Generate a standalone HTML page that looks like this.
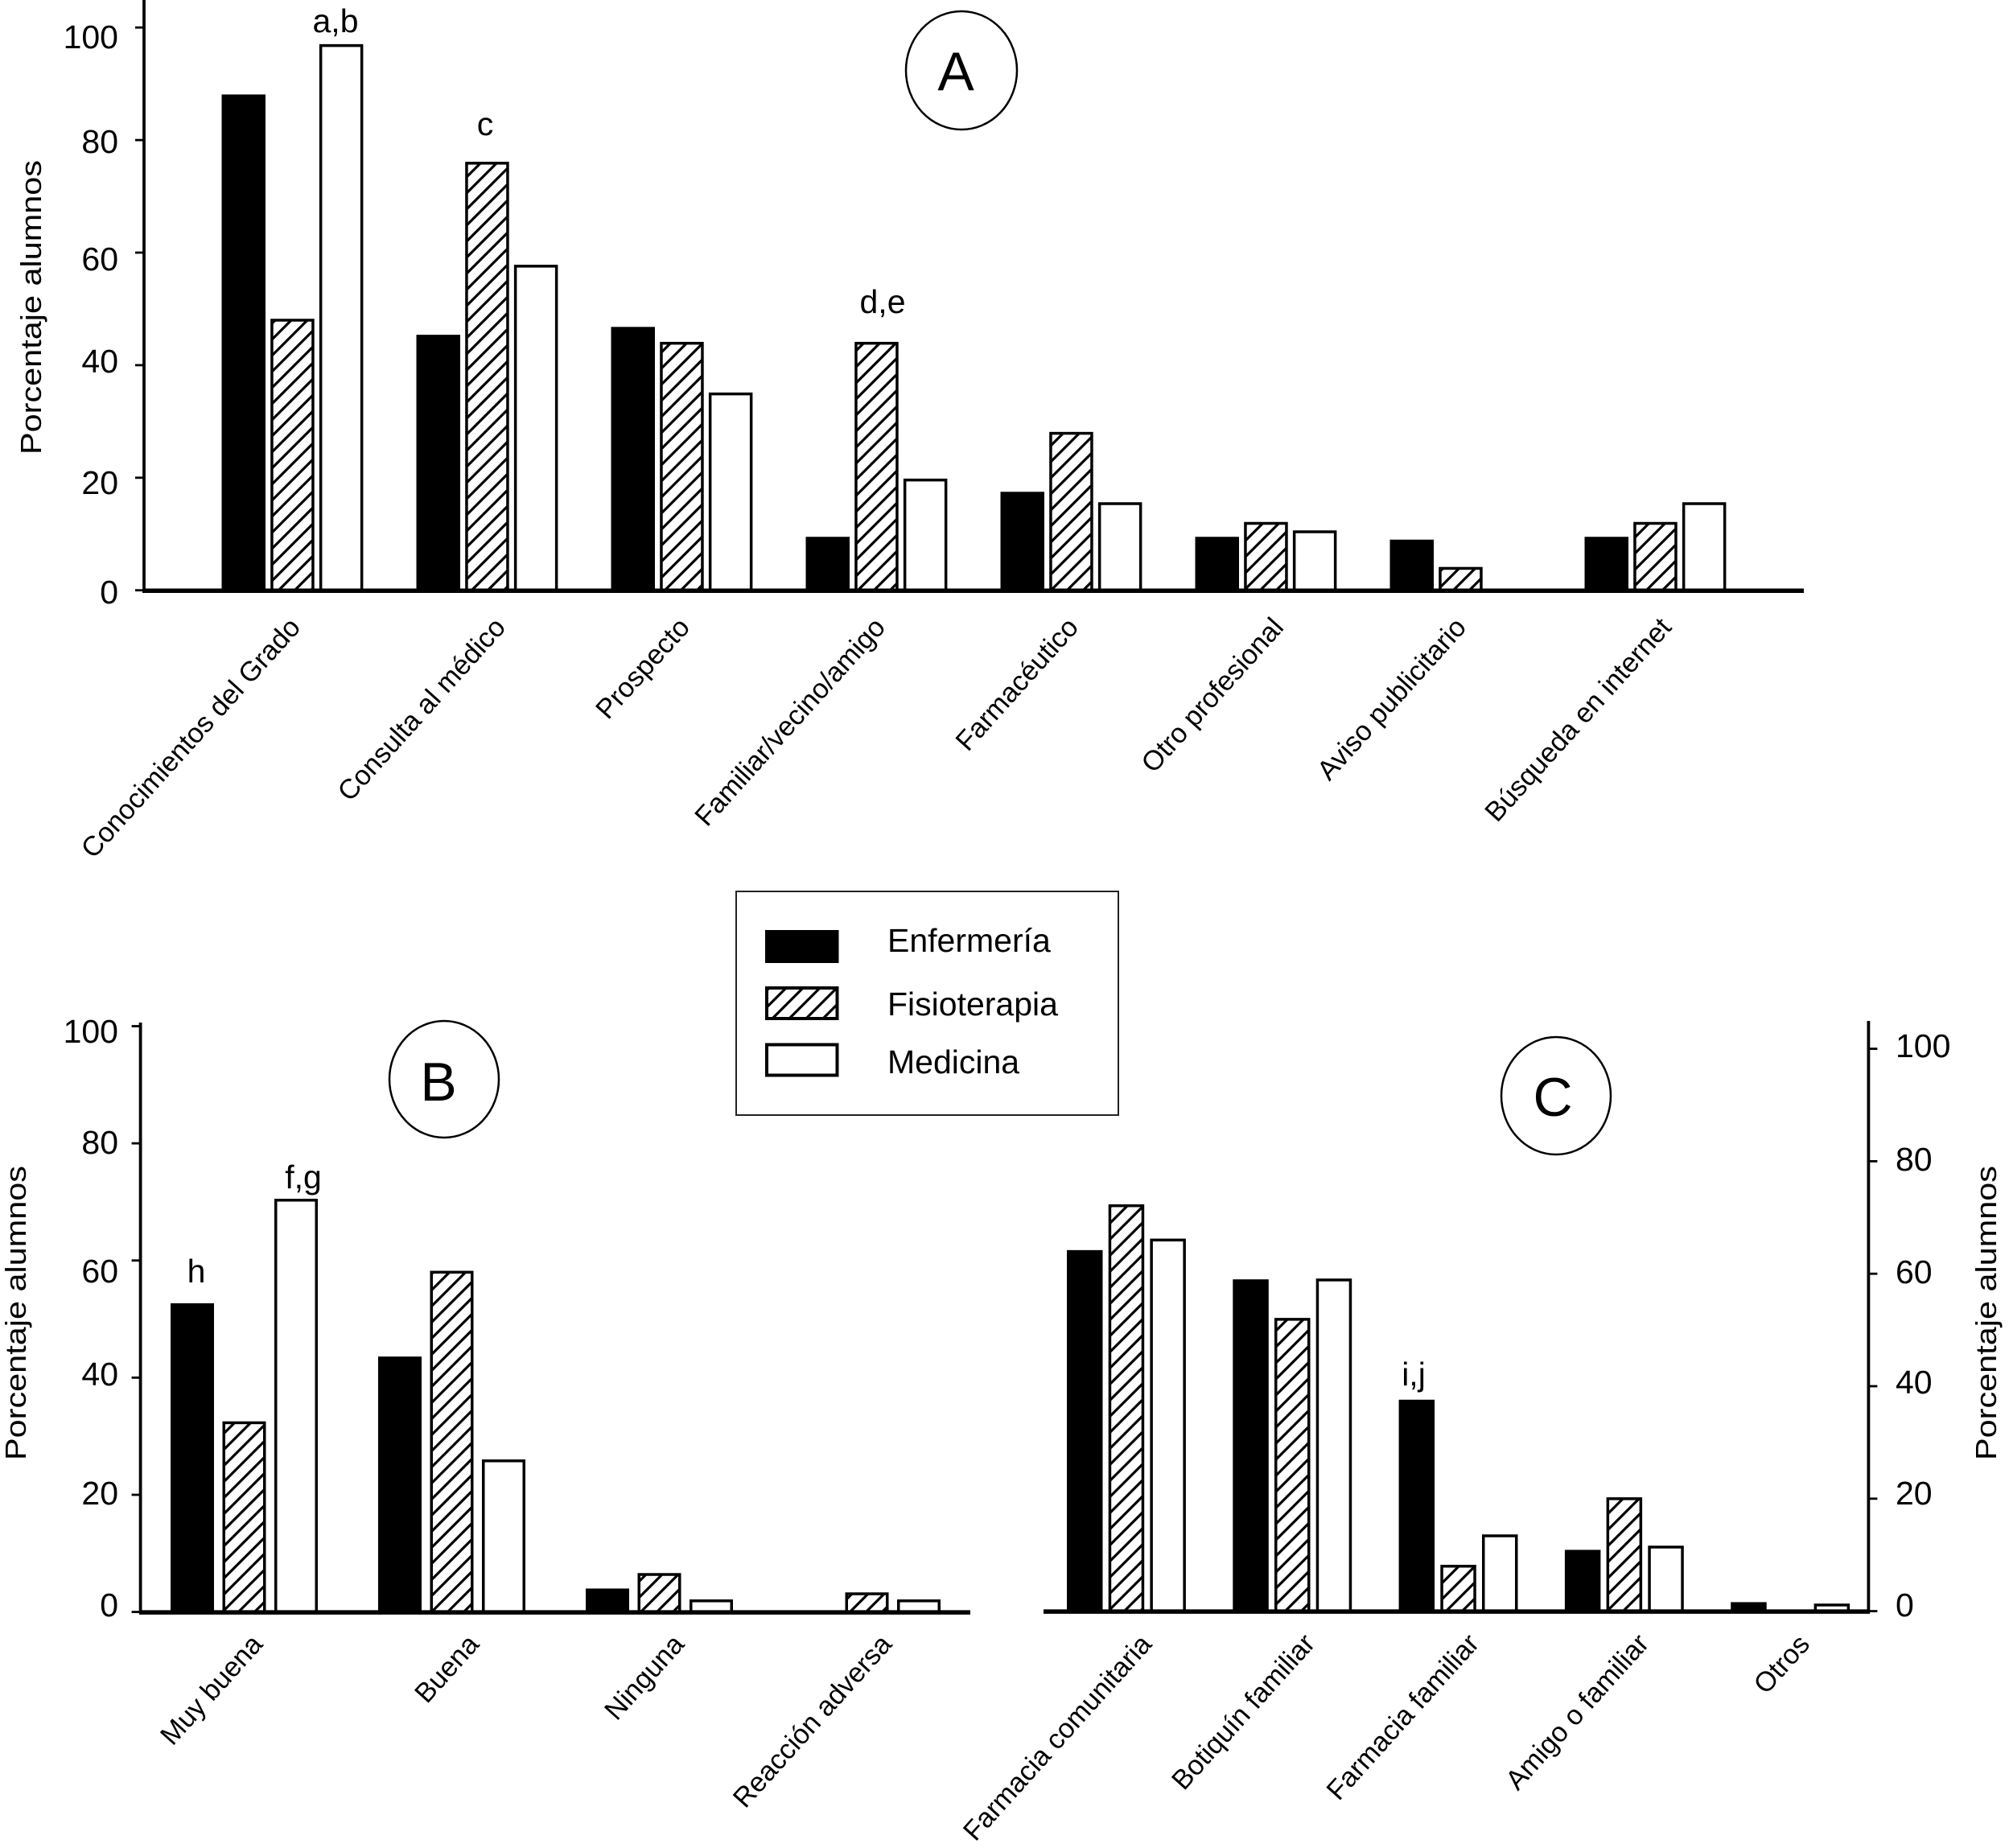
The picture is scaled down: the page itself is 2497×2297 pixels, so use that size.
<!DOCTYPE html>
<html lang="es">
<head>
<meta charset="utf-8">
<title>Porcentaje alumnos</title>
<style>
html,body{margin:0;padding:0;background:#fff;}
svg{display:block;}
text{font-family:"Liberation Sans",sans-serif;fill:#000;}
.tk{font-size:41px;}
.tkr{font-size:41px;}
.ttl{font-size:36px;}
.cat{font-size:34.3px;text-anchor:end;}
.ann{font-size:41px;text-anchor:middle;}
.let{font-size:68px;text-anchor:middle;}
.leg{font-size:41px;}
</style>
</head>
<body>
<svg id="chart" xmlns="http://www.w3.org/2000/svg" width="2497" height="2297" viewBox="0 0 2497 2297">
  <defs>
    <pattern id="hatch" patternUnits="userSpaceOnUse" width="20" height="20">
      <path d="M-5 5L5 -5M0 20L20 0M15 25L25 15" stroke="#000" stroke-width="3.2" fill="none"/>
    </pattern>
    <pattern id="hatch-legend" patternUnits="userSpaceOnUse" width="42" height="42">
      <path d="M-5 5L5 -5M-5 26L26 -5M-5 47L47 -5M16 47L47 16M37 47L47 37" stroke="#000" stroke-width="3.2" fill="none"/>
    </pattern>
  </defs>
  <rect x="0" y="0" width="2497" height="2297" fill="#fff"/>

  <g id="panel-a">
    <text class="ttl" transform="translate(51,565) rotate(-90)" textLength="366" lengthAdjust="spacingAndGlyphs">Porcentaje alumnos</text>
    <g text-anchor="end">
      <text class="tk" x="147" y="60">100</text>
      <text class="tk" x="147" y="190">80</text>
      <text class="tk" x="147" y="336">60</text>
      <text class="tk" x="147" y="463">40</text>
      <text class="tk" x="147" y="614">20</text>
      <text class="tk" x="147" y="750">0</text>
    </g>
    <g>
      <text class="cat" transform="translate(375,781) rotate(-48)">Conocimientos del Grado</text>
      <text class="cat" transform="translate(630,781) rotate(-48)">Consulta al médico</text>
      <text class="cat" transform="translate(859,781) rotate(-48)">Prospecto</text>
      <text class="cat" transform="translate(1102,781) rotate(-48)">Familiar/vecino/amigo</text>
      <text class="cat" transform="translate(1342,781) rotate(-48)">Farmacéutico</text>
      <text class="cat" transform="translate(1597,781) rotate(-48)">Otro profesional</text>
      <text class="cat" transform="translate(1824,781) rotate(-48)">Aviso publicitario</text>
      <text class="cat" transform="translate(2079,781) rotate(-48)">Búsqueda en internet</text>
    </g>
    <text class="ann" x="417" y="40">a,b</text>
    <text class="ann" x="603" y="168">c</text>
    <text class="ann" x="1097" y="389">d,e</text>
    <ellipse cx="1195" cy="87.5" rx="69" ry="73.5" fill="#fff" stroke="#000" stroke-width="2.5"/>
    <text class="let" x="1188" y="112">A</text>
  </g>

  <g id="panel-b">
    <text class="ttl" transform="translate(32,1815) rotate(-90)" textLength="366" lengthAdjust="spacingAndGlyphs">Porcentaje alumnos</text>
    <g text-anchor="end">
      <text class="tk" x="147" y="1296">100</text>
      <text class="tk" x="147" y="1434">80</text>
      <text class="tk" x="147" y="1594">60</text>
      <text class="tk" x="147" y="1722">40</text>
      <text class="tk" x="147" y="1870">20</text>
      <text class="tk" x="147" y="2009">0</text>
    </g>
    <g>
      <text class="cat" transform="translate(328,2045) rotate(-48)">Muy buena</text>
      <text class="cat" transform="translate(597,2045) rotate(-48)">Buena</text>
      <text class="cat" transform="translate(852,2045) rotate(-48)">Ninguna</text>
      <text class="cat" transform="translate(1110,2045) rotate(-48)">Reacción adversa</text>
    </g>
    <text class="ann" x="377" y="1477">f,g</text>
    <text class="ann" x="244" y="1594">h</text>
    <ellipse cx="552" cy="1341.5" rx="68" ry="72.5" fill="#fff" stroke="#000" stroke-width="2.5"/>
    <text class="let" x="545" y="1368">B</text>
  </g>

  <g id="panel-c">
    <text class="ttl" transform="translate(2481,1815) rotate(-90)" textLength="366" lengthAdjust="spacingAndGlyphs">Porcentaje alumnos</text>
    <g text-anchor="start">
      <text class="tkr" x="2356" y="1314">100</text>
      <text class="tkr" x="2356" y="1455">80</text>
      <text class="tkr" x="2356" y="1595">60</text>
      <text class="tkr" x="2356" y="1732">40</text>
      <text class="tkr" x="2356" y="1870">20</text>
      <text class="tkr" x="2356" y="2009">0</text>
    </g>
    <g>
      <text class="cat" transform="translate(1433,2045) rotate(-48)">Farmacia comunitaria</text>
      <text class="cat" transform="translate(1636,2044) rotate(-48)">Botiquín familiar</text>
      <text class="cat" transform="translate(1840,2044) rotate(-48)">Farmacia familiar</text>
      <text class="cat" transform="translate(2051,2044) rotate(-48)">Amigo o familiar</text>
      <text class="cat" transform="translate(2251,2045) rotate(-48)">Otros</text>
    </g>
    <text class="ann" x="1757" y="1722">i,j</text>
    <ellipse cx="1934" cy="1362" rx="68" ry="73" fill="#fff" stroke="#000" stroke-width="2.5"/>
    <text class="let" x="1930" y="1387">C</text>
  </g>

  <g id="legend">
    <rect x="915" y="1108" width="475" height="278" fill="#fff" stroke="#222" stroke-width="2"/>
    <g>
      <rect x="951" y="1156" width="91.5" height="41" fill="#000"/>
      <text class="leg" x="1103" y="1183">Enfermería</text>
    </g>
    <g>
      <rect x="953" y="1228" width="87.5" height="38" fill="url(#hatch-legend)" stroke="#000" stroke-width="4"/>
      <text class="leg" x="1103" y="1262">Fisioterapia</text>
    </g>
    <g>
      <rect x="953" y="1298.5" width="87.5" height="38" fill="#fff" stroke="#000" stroke-width="4"/>
      <text class="leg" x="1103" y="1334">Medicina</text>
    </g>
  </g>
</svg>

<script>
const tickValues = [0, 20, 40, 60, 80, 100];

const categoriesA = ['Conocimientos del Grado', 'Consulta al médico', 'Prospecto', 'Familiar/vecino/amigo', 'Farmacéutico', 'Otro profesional', 'Aviso publicitario', 'Búsqueda en internet'];
const enfermeriaA = [88.1, 45.4, 46.8, 9.5, 17.5, 9.5, 9, 9.5];
const fisioterapiaA = [48.1, 76, 44, 44, 28, 12, 4, 12];
const medicinaA = [96.9, 57.7, 35, 19.7, 15.5, 10.5, 0, 15.5];

const categoriesB = ['Muy buena', 'Buena', 'Ninguna', 'Reacción adversa'];
const enfermeriaB = [52.7, 43.6, 4, 0];
const fisioterapiaB = [32.4, 58.1, 6.5, 3.2];
const medicinaB = [70.4, 25.9, 2, 2];

const categoriesC = ['Farmacia comunitaria', 'Botiquín familiar', 'Farmacia familiar', 'Amigo o familiar', 'Otros'];
const enfermeriaC = [64.2, 59, 37.6, 10.9, 1.6];
const fisioterapiaC = [72.2, 52, 8.1, 20.1, 0];
const medicinaC = [66.1, 59, 13.5, 11.5, 1.2];

const NS = 'http://www.w3.org/2000/svg';

function slug(s) {
  return s.normalize('NFD').replace(/[\u0300-\u036f]/g, '').toLowerCase().replace(/[^a-z0-9]+/g, '-');
}

function drawLine(parent, x1, y1, x2, y2, w, name) {
  const el = document.createElementNS(NS, 'line');
  el.setAttribute('x1', x1);
  el.setAttribute('y1', y1);
  el.setAttribute('x2', x2);
  el.setAttribute('y2', y2);
  el.setAttribute('stroke', '#000');
  el.setAttribute('stroke-width', w);
  
  
  parent.appendChild(el);
}

function drawBar(parent, x, top, bottom, width, kind, name) {
  const el = document.createElementNS(NS, 'rect');
  if (kind === 'enfermeria') {
    el.setAttribute('x', x);
    el.setAttribute('y', top);
    el.setAttribute('width', width);
    el.setAttribute('height', bottom - top);
    el.setAttribute('fill', '#000');
  } else {
    el.setAttribute('x', x + 1.75);
    el.setAttribute('y', top + 0.75);
    el.setAttribute('width', width - 3.5);
    el.setAttribute('height', Math.max(bottom - top - 0.75, 0));
    el.setAttribute('fill', kind === 'fisioterapia' ? 'url(#hatch)' : '#fff');
    el.setAttribute('stroke', '#000');
    el.setAttribute('stroke-width', 3.5);
  }
  
  
  parent.appendChild(el);
}

function drawPanel(cfg, categories, enfermeria, fisioterapia, medicina) {
  const root = document.getElementById(cfg.id);
  const g = document.createElementNS(NS, 'g');
  
  
  root.insertBefore(g, root.firstChild);

  const yScale = function (v) { return cfg.y0 - v * cfg.unit; };
  const xScale = function (c, s) { return cfg.x0 + c * cfg.groupStep + s * cfg.barStep; };
  const series = [['enfermeria', enfermeria], ['fisioterapia', fisioterapia], ['medicina', medicina]];

  categories.forEach(function (cat, c) {
    series.forEach(function (entry, s) {
      const v = entry[1][c];
      if (v > 0) {
        drawBar(g, xScale(c, s), yScale(v), cfg.y0 + 1, cfg.barWidth, entry[0], 'bar-' + slug(cat) + '-' + entry[0]);
      }
    });
  });

  tickValues.forEach(function (t) {
    drawLine(g, cfg.axisX, yScale(t), cfg.axisX + cfg.tickDir * 11, yScale(t), 2.8, cfg.id + '-y-tick-' + t);
  });
  drawLine(g, cfg.axisX, cfg.axisTop, cfg.axisX, cfg.y0 + 2, 3.8, cfg.id + '-y-axis');
  drawLine(g, cfg.baseFrom, cfg.y0 + 0.5, cfg.baseTo, cfg.y0 + 0.5, 5.5, cfg.id + '-x-axis');
}

drawPanel({id: 'panel-a', x0: 275.5, groupStep: 242, barStep: 60.7, barWidth: 54.5, y0: 733.7, unit: 6.995, axisX: 179, axisTop: 0, tickDir: -1, baseFrom: 177, baseTo: 2242}, categoriesA, enfermeriaA, fisioterapiaA, medicinaA);
drawPanel({id: 'panel-b', x0: 212, groupStep: 258, barStep: 64.5, barWidth: 54, y0: 2003.6, unit: 7.281, axisX: 174.6, axisTop: 1271, tickDir: -1, baseFrom: 173, baseTo: 1206}, categoriesB, enfermeriaB, fisioterapiaB, medicinaB);
drawPanel({id: 'panel-c', x0: 1326, groupStep: 206.3, barStep: 51.7, barWidth: 44.5, y0: 2002.6, unit: 6.99, axisX: 2322.4, axisTop: 1269, tickDir: 1, baseFrom: 1297, baseTo: 2324}, categoriesC, enfermeriaC, fisioterapiaC, medicinaC);
</script>
</body>
</html>
